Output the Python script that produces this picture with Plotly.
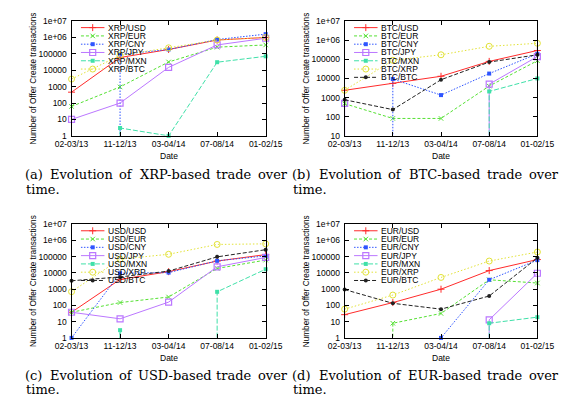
import plotly.graph_objects as go

W, H = 568, 397

dates = ["02-03/13", "11-12/13", "03-04/14", "07-08/14", "01-02/15"]
ytick_vals = [1, 10, 100, 1000, 10000, 100000, 1000000, 10000000]
ytick_text = ["1", "10", "100", "1000", "10000", "100000", "1e+06", "1e+07"]

# (a) XRP-based
xrp_names = ["XRP/USD", "XRP/EUR", "XRP/CNY", "XRP/JPY", "XRP/MXN", "XRP/BTC"]
xrp_usd = [460, 60000, 185000, 700000, 1000000]
xrp_eur = [62, 960, 32000, 257000, 350000]
xrp_cny = [0, 93000, 185000, 750000, 1600000]
xrp_jpy = [10, 100, 15000, 350000, 900000]
xrp_mxn = [0, 3, 1, 31000, 71000]
xrp_btc = [2900, 81000, 234000, 700000, 1000000]

# (b) BTC-based
btc_names = ["BTC/USD", "BTC/EUR", "BTC/CNY", "BTC/JPY", "BTC/MXN", "BTC/XRP", "BTC/BTC"]
btc_usd = [2400, 5500, 13000, 78000, 290000]
btc_eur = [480, 81, 81, 4000, 85000]
btc_cny = [0, 9300, 1350, 18000, 195000]
btc_jpy = [500, 0, 0, 5000, 140000]
btc_mxn = [0, 0, 0, 2100, 10000]
btc_xrp = [2400, 89000, 173000, 480000, 690000]
btc_btc = [770, 235, 8600, 72000, 173000]

# (c) USD-based
usd_names = ["USD/USD", "USD/EUR", "USD/CNY", "USD/JPY", "USD/MXN", "USD/XRP", "USD/BTC"]
usd_usd = [38, 4000, 12000, 54000, 135000]
usd_eur = [38, 150, 330, 19000, 62000]
usd_cny = [1, 9600, 10500, 56000, 112000]
usd_jpy = [38, 15, 160, 24000, 90000]
usd_mxn = [0, 3, 0, 690, 17000]
usd_xrp = [700, 71000, 141000, 570000, 620000]
usd_btc = [3300, 5700, 13000, 98000, 270000]

# (d) EUR-based
eur_names = ["EUR/USD", "EUR/EUR", "EUR/CNY", "EUR/JPY", "EUR/MXN", "EUR/XRP", "EUR/BTC"]
eur_usd = [27, 150, 1000, 14000, 67000]
eur_eur = [0, 8, 32, 3800, 2400]
eur_cny = [0, 0, 1, 3800, 62000]
eur_jpy = [0, 0, 0, 13, 9600]
eur_mxn = [0, 0, 0, 8, 19]
eur_xrp = [59, 435, 5300, 54000, 195000]
eur_btc = [950, 135, 59, 380, 85000]

base_names = ["XRP", "BTC", "USD", "EUR"]

styles = [
    dict(color="#ff2b2b", dash="solid", symbol="cross-thin-open", size=5, mlw=1),
    dict(color="#55e033", dash="3px,2px", symbol="x-thin-open", size=4.5, mlw=1),
    dict(color="#2f55ff", dash="1.5px,1.5px", symbol="square", size=4, mlw=0),
    dict(color="#bb77ff", dash="solid", symbol="square-open", size=6, mlw=1.2),
    dict(color="#3fe0a8", dash="5px,2px", symbol="square", size=4, mlw=0),
    dict(color="#e2e238", dash="1.5px,2px", symbol="circle-open", size=6, mlw=1),
    dict(color="#222222", dash="4px,2px", symbol="circle", size=4, mlw=0),
]

# layout geometry (pixels)
cols = [(49.5, 256), (340, 545)]
rows = [(8.3, 126), (216.7, 333.3)]
# justified caption word centres (pixels) for left / right column
cap_centres = [[9.5, 60.2, 107.4, 159.5, 222.8, 263.3],
               [293.9, 345.7, 393.7, 446.7, 510.7, 552.0]]
cap_left = [0, 284]
cap_rows = [(166, 181.5), (371.5, 386)]

panels = [
    dict(names=xrp_names, series=[xrp_usd, xrp_eur, xrp_cny, xrp_jpy, xrp_mxn, xrp_btc], ymin=0, col=0, row=0),
    dict(names=btc_names, series=[btc_usd, btc_eur, btc_cny, btc_jpy, btc_mxn, btc_xrp, btc_btc], ymin=1, col=1, row=0),
    dict(names=usd_names, series=[usd_usd, usd_eur, usd_cny, usd_jpy, usd_mxn, usd_xrp, usd_btc], ymin=0, col=0, row=1),
    dict(names=eur_names, series=[eur_usd, eur_eur, eur_cny, eur_jpy, eur_mxn, eur_xrp, eur_btc], ymin=0, col=1, row=1),
]

FLOOR = 1e-3


def px_x(x):
    return x / W


def px_y(y):
    return 1 - y / H


def build_path(vals):
    xs, ys = [], []
    n = len(vals)
    for i, v in enumerate(vals):
        if v <= 0:
            continue
        if i > 0 and vals[i - 1] <= 0:
            xs.append(dates[i]); ys.append(FLOOR)
        xs.append(dates[i]); ys.append(v)
        if i < n - 1 and vals[i + 1] <= 0:
            xs.append(dates[i]); ys.append(FLOOR)
            xs.append(None); ys.append(None)
    return xs, ys


fig = go.Figure()
sans = "Liberation Sans, Arial, sans-serif"
serif = "DejaVu Serif, serif"
annotations = []

for k, p in enumerate(panels):
    ax = "" if k == 0 else str(k + 1)
    xref, yref = "x" + ax, "y" + ax
    x0, x1 = cols[p["col"]]
    y0, y1 = rows[p["row"]]
    for i, (name, vals) in enumerate(zip(p["names"], p["series"])):
        st = styles[i]
        xs, ys = build_path(vals)
        fig.add_trace(go.Scatter(x=xs, y=ys, mode="lines", xaxis=xref, yaxis=yref,
                                 line=dict(color=st["color"], width=1, dash=st["dash"]),
                                 connectgaps=False, showlegend=False, hoverinfo="skip"))
        mx = [d for d, v in zip(dates, vals) if v > 0]
        my = [v for v in vals if v > 0]
        fig.add_trace(go.Scatter(x=mx, y=my, mode="markers", xaxis=xref, yaxis=yref, cliponaxis=False,
                                 marker=dict(symbol=st["symbol"], size=st["size"], color=st["color"],
                                             line=dict(color=st["color"], width=st["mlw"])),
                                 showlegend=False, hoverinfo="skip"))
        # legend sample (in pixel overlay axes)
        ly = y0 + 6.7 + 8.5 * i
        lx = x0 + 10
        fig.add_trace(go.Scatter(x=[lx, lx + 25], y=[ly, ly], mode="lines", xaxis="x5", yaxis="y5",
                                 line=dict(color=st["color"], width=1, dash=st["dash"]),
                                 showlegend=False, hoverinfo="skip"))
        fig.add_trace(go.Scatter(x=[lx + 12.5], y=[ly], mode="markers", xaxis="x5", yaxis="y5",
                                 marker=dict(symbol=st["symbol"], size=st["size"], color=st["color"],
                                             line=dict(color=st["color"], width=st["mlw"])),
                                 showlegend=False, hoverinfo="skip"))
        annotations.append(dict(x=px_x(lx + 28), y=px_y(ly), xref="paper", yref="paper", text=name,
                                showarrow=False, xanchor="left", yanchor="middle", borderpad=0,
                                font=dict(family=sans, size=8.5, color="black")))

    axis_common = dict(showline=True, mirror="ticks", linecolor="black", linewidth=1,
                       ticks="inside", ticklen=4, tickcolor="black", tickwidth=1,
                       showgrid=False, zeroline=False,
                       tickfont=dict(family=sans, size=8.5, color="black"))
    fig.update_layout(**{
        "xaxis" + ax: dict(axis_common, domain=[px_x(x0), px_x(x1)], anchor=yref,
                           type="category", categoryorder="array", categoryarray=dates,
                           range=[0, len(dates) - 1]),
        "yaxis" + ax: dict(axis_common, domain=[px_y(y1), px_y(y0)], anchor=xref,
                           type="log", range=[p["ymin"], 7],
                           tickvals=ytick_vals[p["ymin"]:], ticktext=ytick_text[p["ymin"]:],
                           ticklabelstandoff=2),
    })

    # axis titles
    annotations.append(dict(x=px_x((x0 + x1) / 2), y=px_y(y1 + 21), xref="paper", yref="paper",
                            text="Date", showarrow=False, xanchor="center", yanchor="middle",
                            font=dict(family=sans, size=8.5, color="black")))
    annotations.append(dict(x=px_x(x0 - 41), y=px_y((y0 + y1) / 2), xref="paper", yref="paper",
                            text="Number of Offer Create transactions", textangle=-90,
                            showarrow=False, xanchor="center", yanchor="middle",
                            font=dict(family=sans, size=8.2, color="black")))

    # caption
    letter = "abcd"[k]
    words = ["(" + letter + ")", "Evolution", "of", base_names[k] + "-based", "trade", "over"]
    centres = cap_centres[p["col"]]
    cy1, cy2 = cap_rows[p["row"]]
    for w, xc in zip(words, centres):
        annotations.append(dict(x=px_x(xc), y=px_y(cy1), xref="paper", yref="paper", text=w,
                                showarrow=False, xanchor="center", yanchor="middle", borderpad=0,
                                font=dict(family=serif, size=13, color="black")))
    annotations.append(dict(x=px_x(cap_left[p["col"]]), y=px_y(cy2), xref="paper", yref="paper",
                            text="time.", showarrow=False, xanchor="left", yanchor="middle", borderpad=0,
                            font=dict(family=serif, size=13, color="black")))

fig.update_layout(
    xaxis5=dict(domain=[0, 1], range=[0, W], visible=False, fixedrange=True),
    yaxis5=dict(domain=[0, 1], range=[H, 0], visible=False, fixedrange=True, anchor="x5"),
)

fig.update_layout(width=W, height=H, margin=dict(l=0, r=0, t=0, b=0),
                  paper_bgcolor="white", plot_bgcolor="rgba(0,0,0,0)",
                  showlegend=False, annotations=annotations)

fig.write_html("out.html")
